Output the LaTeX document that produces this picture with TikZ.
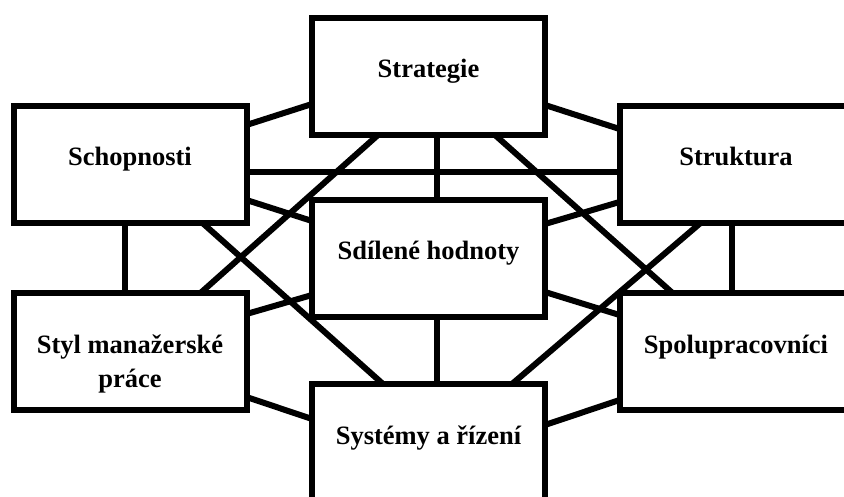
\documentclass[tikz,border=0pt]{standalone}
\usepackage{fontspec}
\setmainfont{Liberation Serif}
\usepackage{tikz}
\newcommand{\boxtext}[1]{\parbox[c][117pt][t]{225pt}{\centering\rule{0pt}{60pt}#1}}

\begin{document}
\begin{tikzpicture}[x=1pt,y=1pt,
    box/.style={draw, line width=6pt, fill=white, minimum width=233pt, minimum height=117pt,
      inner sep=0pt, outer sep=0pt, font=\fontsize{26.5}{34}\selectfont\bfseries},
    link/.style={line width=6pt}]
  \clip (0,0) rectangle (844,-497);
  \node[box] (strat)  at (428.5,-76.5)  {\boxtext{Strategie}};
  \node[box] (schop)  at (130,-164.5)   {\boxtext{Schopnosti}};
  \node[box] (strukt) at (736,-164.5)   {\boxtext{Struktura}};
  \node[box] (sdil)   at (428.5,-258.5) {\boxtext{Sdílené hodnoty}};
  \node[box] (styl)   at (130,-351.5)   {\boxtext{Styl manažerské\\práce}};
  \node[box] (spolu)  at (736,-351.5)   {\boxtext{Spolupracovníci}};
  \node[box] (syst)   at (428.5,-442.5) {\boxtext{Systémy a řízení}};

  \path[link]
    ([yshift=-19pt]schop.north east) edge ([yshift=31pt]strat.south west)
    ([yshift=30pt]strat.south east) edge ([yshift=-23pt]strukt.north west)
    ([yshift=-66pt]schop.north east) edge ([yshift=-66pt]strukt.north west)
    ([xshift=8.5pt]strat.south) edge ([xshift=8.5pt]sdil.north)
    ([xshift=66pt]strat.south west) edge ([xshift=187pt]styl.north west)
    ([xshift=-50pt]strat.south east) edge ([xshift=53pt]spolu.north west)
    ([xshift=-44pt]schop.south east) edge ([xshift=71pt]syst.north west)
    ([xshift=81pt]strukt.south west) edge ([xshift=-33pt]syst.north east)
    ([xshift=-5pt]schop.south) edge ([xshift=-5pt]styl.north)
    ([xshift=-4pt]strukt.south) edge ([xshift=-4pt]spolu.north)
    ([yshift=23pt]schop.south east) edge ([yshift=-21pt]sdil.north west)
    ([yshift=-24pt]sdil.north east) edge ([yshift=21pt]strukt.south west)
    ([yshift=-21pt]styl.north east) edge ([yshift=22pt]sdil.south west)
    ([yshift=25pt]sdil.south east) edge ([yshift=-22pt]spolu.north west)
    ([xshift=8.5pt]sdil.south) edge ([xshift=8.5pt]syst.north)
    ([yshift=13pt]styl.south east) edge ([yshift=-35pt]syst.north west)
    ([yshift=-41pt]syst.north east) edge ([yshift=10pt]spolu.south west)
    ;
\end{tikzpicture}
\end{document}
